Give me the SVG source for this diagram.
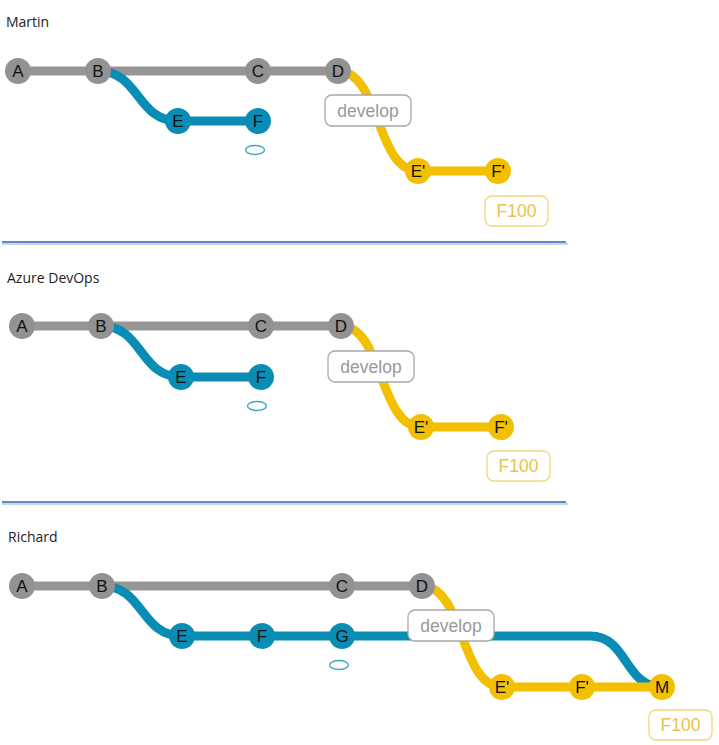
<svg xmlns="http://www.w3.org/2000/svg" width="719" height="745" viewBox="0 0 719 745">
<style>
.title{font-family:"Open Sans","Noto Sans",sans-serif;font-size:14px;fill:#222}
.n text{font-family:"Liberation Sans",Arial,sans-serif;font-size:17px;fill:#111;text-anchor:middle}
.g circle{fill:#929292}
.b circle{fill:#0a8db4}
.y circle{fill:#f2c000}
.gl{stroke:#969696;stroke-width:9;fill:none}
.bl{stroke:#0a8db4;stroke-width:9;fill:none}
.yl{stroke:#f2c000;stroke-width:9;fill:none}
.dev rect{fill:#fff;stroke:#a8a8a8;stroke-width:1.3}
.dev text{font-family:"Liberation Sans",Arial,sans-serif;font-size:17.5px;fill:#999;text-anchor:middle}
.f100 rect{fill:#fff;stroke:#f3d77a;stroke-width:1.3}
.f100 text{font-family:"Liberation Sans",Arial,sans-serif;font-size:17.5px;fill:#e8c34a;text-anchor:middle}
.tag{fill:none;stroke:#3aa3c9;stroke-width:1.3}
.sep{stroke:#5b8ccf;stroke-width:2}
.seps{stroke:#c9d6e6;stroke-width:2}
</style>

<!-- Martin -->
<text class="title" x="6" y="27">Martin</text>
<g id="connectors-martin">
<path class="gl" d="M18,71 H338"/>
<path class="bl" d="M98,71 C140,71 136,121 178,121 H258"/>
<path class="yl" d="M338,71 C380,71 376,171 418,171 H498"/>
</g>
<g id="m-A" class="n g"><circle cx="18" cy="71" r="13"/><text x="18" y="77">A</text></g>
<g id="m-B" class="n g"><circle cx="98" cy="71" r="13"/><text x="98" y="77">B</text></g>
<g id="m-C" class="n g"><circle cx="258" cy="71" r="13"/><text x="258" y="77">C</text></g>
<g id="m-D" class="n g"><circle cx="338" cy="71" r="13"/><text x="338" y="77">D</text></g>
<g id="m-E" class="n b"><circle cx="178" cy="121" r="13"/><text x="178" y="127">E</text></g>
<g id="m-F" class="n b"><circle cx="258" cy="121" r="13"/><text x="258" y="127">F</text></g>
<g id="m-E2" class="n y"><circle cx="418" cy="171" r="13"/><text x="418" y="177">E'</text></g>
<g id="m-F2" class="n y"><circle cx="498" cy="171" r="13"/><text x="498" y="177">F'</text></g>
<ellipse id="m-tag" class="tag" cx="255" cy="150" rx="9.5" ry="4.5"/>
<g id="m-develop" class="dev"><rect x="325" y="95" width="86" height="31" rx="7"/><text x="368" y="117">develop</text></g>
<g id="m-F100" class="f100"><rect x="485" y="196" width="63" height="30" rx="7"/><text x="516.5" y="217">F100</text></g>
<line class="seps" x1="2" y1="244" x2="568" y2="244"/>
<line class="sep" x1="2" y1="242" x2="566" y2="242"/>

<!-- Azure DevOps -->
<text class="title" x="7" y="283">Azure DevOps</text>
<g id="connectors-azure">
<path class="gl" d="M22,326 H341"/>
<path class="bl" d="M101,326 C143,326 139,377 181,377 H261"/>
<path class="yl" d="M341,326 C383,326 379,427 421,427 H501"/>
</g>
<g id="a-A" class="n g"><circle cx="22" cy="326" r="13"/><text x="22" y="332">A</text></g>
<g id="a-B" class="n g"><circle cx="101" cy="326" r="13"/><text x="101" y="332">B</text></g>
<g id="a-C" class="n g"><circle cx="261" cy="326" r="13"/><text x="261" y="332">C</text></g>
<g id="a-D" class="n g"><circle cx="341" cy="326" r="13"/><text x="341" y="332">D</text></g>
<g id="a-E" class="n b"><circle cx="181" cy="377" r="13"/><text x="181" y="383">E</text></g>
<g id="a-F" class="n b"><circle cx="261" cy="377" r="13"/><text x="261" y="383">F</text></g>
<g id="a-E2" class="n y"><circle cx="421" cy="427" r="13"/><text x="421" y="433">E'</text></g>
<g id="a-F2" class="n y"><circle cx="501" cy="427" r="13"/><text x="501" y="433">F'</text></g>
<ellipse id="a-tag" class="tag" cx="257" cy="406" rx="9.5" ry="4.5"/>
<g id="a-develop" class="dev"><rect x="328" y="351" width="86" height="31" rx="7"/><text x="371" y="373">develop</text></g>
<g id="a-F100" class="f100"><rect x="487" y="451" width="63" height="30" rx="7"/><text x="518.5" y="472">F100</text></g>
<line class="seps" x1="2" y1="504" x2="568" y2="504"/>
<line class="sep" x1="2" y1="502" x2="566" y2="502"/>

<!-- Richard -->
<text class="title" x="8" y="542">Richard</text>
<g id="connectors-richard">
<path class="gl" d="M22,586 H422"/>
<path class="bl" d="M102,586 C144,586 140,636 182,636 H590 C628,636 624,687 662,687"/>
<path class="yl" d="M422,586 C464,586 460,687 502,687 H662"/>
</g>
<g id="r-A" class="n g"><circle cx="22" cy="586" r="13"/><text x="22" y="592">A</text></g>
<g id="r-B" class="n g"><circle cx="102" cy="586" r="13"/><text x="102" y="592">B</text></g>
<g id="r-C" class="n g"><circle cx="342" cy="586" r="13"/><text x="342" y="592">C</text></g>
<g id="r-D" class="n g"><circle cx="422" cy="586" r="13"/><text x="422" y="592">D</text></g>
<g id="r-E" class="n b"><circle cx="182" cy="636" r="13"/><text x="182" y="642">E</text></g>
<g id="r-F" class="n b"><circle cx="262" cy="636" r="13"/><text x="262" y="642">F</text></g>
<g id="r-G" class="n b"><circle cx="342" cy="636" r="13"/><text x="342" y="642">G</text></g>
<g id="r-E2" class="n y"><circle cx="502" cy="687" r="13"/><text x="502" y="693">E'</text></g>
<g id="r-F2" class="n y"><circle cx="582" cy="687" r="13"/><text x="582" y="693">F'</text></g>
<g id="r-M" class="n y"><circle cx="662" cy="687" r="13"/><text x="662" y="693">M</text></g>
<ellipse id="r-tag" class="tag" cx="339" cy="665" rx="9.5" ry="4.5"/>
<g id="r-develop" class="dev"><rect x="408" y="610" width="86" height="31" rx="7"/><text x="451" y="632">develop</text></g>
<g id="r-F100" class="f100"><rect x="649" y="710" width="63" height="30" rx="7"/><text x="680.5" y="731">F100</text></g>
</svg>
